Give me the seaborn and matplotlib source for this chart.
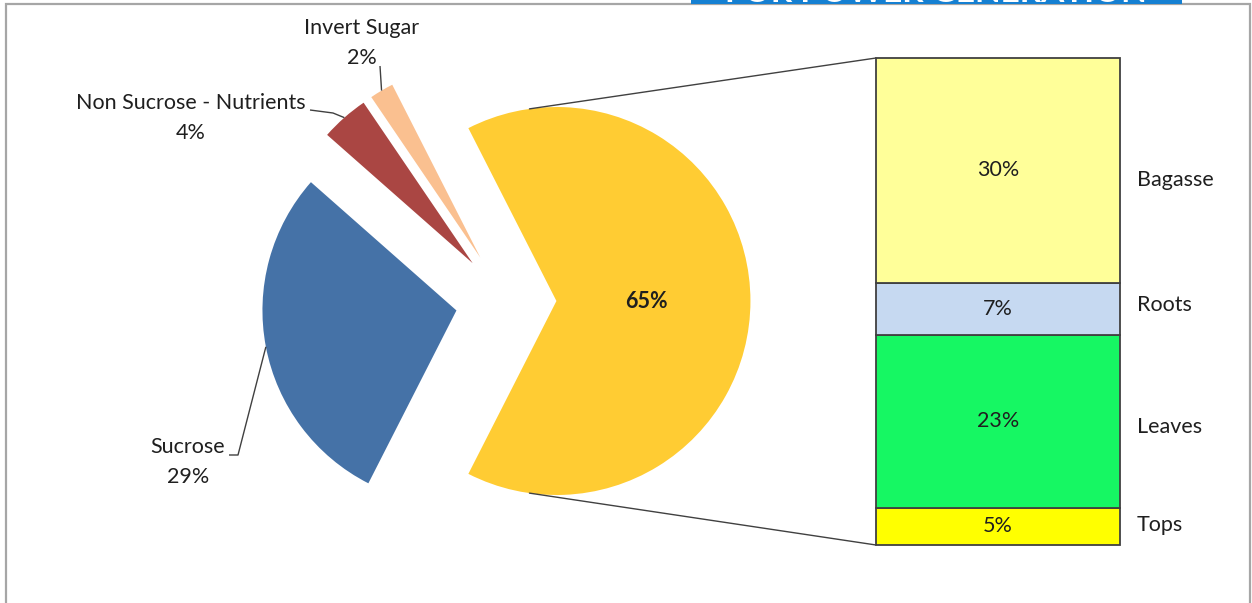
"""
Sugarcane composition: pie-of-bar chart (pie of juice components, bar of the fibre split).
"""

import matplotlib.pyplot as plt
import numpy as np
import seaborn as sns
from matplotlib.patches import ConnectionPatch, Rectangle

sns.set_theme(style="white")
plt.rcParams["font.family"] = ["Lato", "DejaVu Sans"]

# pie: the big slice is broken out into the bar on the right
pie_labels = ["Other", "Invert Sugar", "Non Sucrose - Nutrients", "Sucrose"]
pie_values = [65, 2, 4, 29]
pie_colors = ["#FFCC33", "#FAC090", "#AA4643", "#4572A7"]

# bar: bottom to top
bar_labels = ["Tops", "Leaves", "Roots", "Bagasse"]
bar_values = [5, 23, 7, 30]
bar_colors = ["#FFFF00", "#16F763", "#C6D9F1", "#FFFF99"]

banner_text = "FOR POWER GENERATION"

TXT = "#1f1f1f"
LINE = "#404040"
FS = 15.5
W, H = 1252, 603
R = 194.0  # pie radius in px

fig = plt.figure(figsize=(W / 100, H / 100), dpi=100)

# ---- pie -------------------------------------------------------------
ax_pie = fig.add_axes([0, 0, 1012 / W, 1])
wedges, _ = ax_pie.pie(
    pie_values,
    colors=pie_colors,
    startangle=-pie_values[0] / 100 * 180,
    explode=[0.26] * len(pie_values),
    radius=1,
    wedgeprops=dict(linewidth=0),
)
ax_pie.set_xlim(-506 / R, (1012 - 506) / R)
ax_pie.set_ylim(-302 / R, 301 / R)
ax_pie.set_aspect("auto")
ax_pie.axis("off")


def px(x, y):
    """pixel (from top-left) -> pie data coords"""
    return (x - 506) / R, (301 - y) / R


def arc_mid(w, frac=1.0):
    t = np.deg2rad((w.theta1 + w.theta2) / 2)
    return w.center[0] + frac * w.r * np.cos(t), w.center[1] + frac * w.r * np.sin(t)


# percentage inside big slice
bx, by = arc_mid(wedges[0], 0.465)
ax_pie.text(bx, by, f"{pie_values[0]}%", ha="center", va="center",
            fontsize=FS, fontweight="bold", color=TXT)

# outside labels with bent leader lines
label_pos = {1: (362, 43), 2: (191, 118), 3: (188, 462)}
leader_pts = {
    1: [(380, 66)],
    2: [(333, 113), (310, 110)],
    3: [(238, 455), (229, 455)],
}
for i, (lx, ly) in label_pos.items():
    tx, ty = px(lx, ly)
    ax_pie.text(tx, ty, f"{pie_labels[i]}\n{pie_values[i]}%", ha="center",
                va="center", fontsize=FS, color=TXT, linespacing=1.62)
    pts = [arc_mid(wedges[i])] + [px(*p) for p in leader_pts[i]]
    xs, ys = zip(*pts)
    ax_pie.plot(xs, ys, color=LINE, lw=1, solid_capstyle="butt")

# ---- stacked bar -----------------------------------------------------
ax_bar = fig.add_axes([876 / W, 58 / H, 244 / W, 487 / H])
name_shift = {"Tops": -1.5, "Leaves": 6, "Roots": -4, "Bagasse": 10}  # px, down
bottom = 0
for lab, val, col in zip(bar_labels, bar_values, bar_colors):
    ax_bar.bar(0, val, width=1, bottom=bottom, color=col,
               edgecolor=LINE, linewidth=1.3, clip_on=False)
    mid = bottom + val / 2
    ax_bar.text(0, mid, f"{val}%", ha="center", va="center", fontsize=FS, color=TXT)
    ax_bar.annotate(lab, (0.57, mid), xytext=(0, -name_shift[lab] * 0.72),
                    textcoords="offset points", ha="left", va="center",
                    fontsize=FS, color=TXT, annotation_clip=False)
    bottom += val
ax_bar.set_xlim(-0.5, 0.5)
ax_bar.set_ylim(0, sum(bar_values))
ax_bar.axis("off")

# connectors from the broken-out slice to the bar
yw = wedges[0]
for ang, yb in [(98, sum(bar_values)), (-98, 0)]:
    t = np.deg2rad(ang)
    xa = (yw.center[0] + yw.r * np.cos(t), yw.center[1] + yw.r * np.sin(t))
    con = ConnectionPatch(xyA=xa, coordsA=ax_pie.transData,
                          xyB=(-0.5, yb), coordsB=ax_bar.transData,
                          color=LINE, lw=1)
    fig.add_artist(con)

# ---- slide frame and cut-off banner ------------------------------------
fig.add_artist(Rectangle((5.5 / W, -0.1), (1250 - 5.5) / W, 1.1 - 4.5 / H,
                         transform=fig.transFigure, fill=False,
                         edgecolor="#A6A6A6", lw=1.6))
banner = Rectangle((691 / W, 1 - 4 / H), (1182 - 691) / W, 4 / H,
                   transform=fig.transFigure, facecolor="#1580D2",
                   edgecolor="none")
fig.add_artist(banner)
btxt = fig.text(936 / W, 1 - 2.5 / H, banner_text, ha="center", va="baseline",
                fontsize=24, fontweight="bold", color="white")
btxt.set_clip_path(banner)

fig.savefig("out.png", dpi=100)
